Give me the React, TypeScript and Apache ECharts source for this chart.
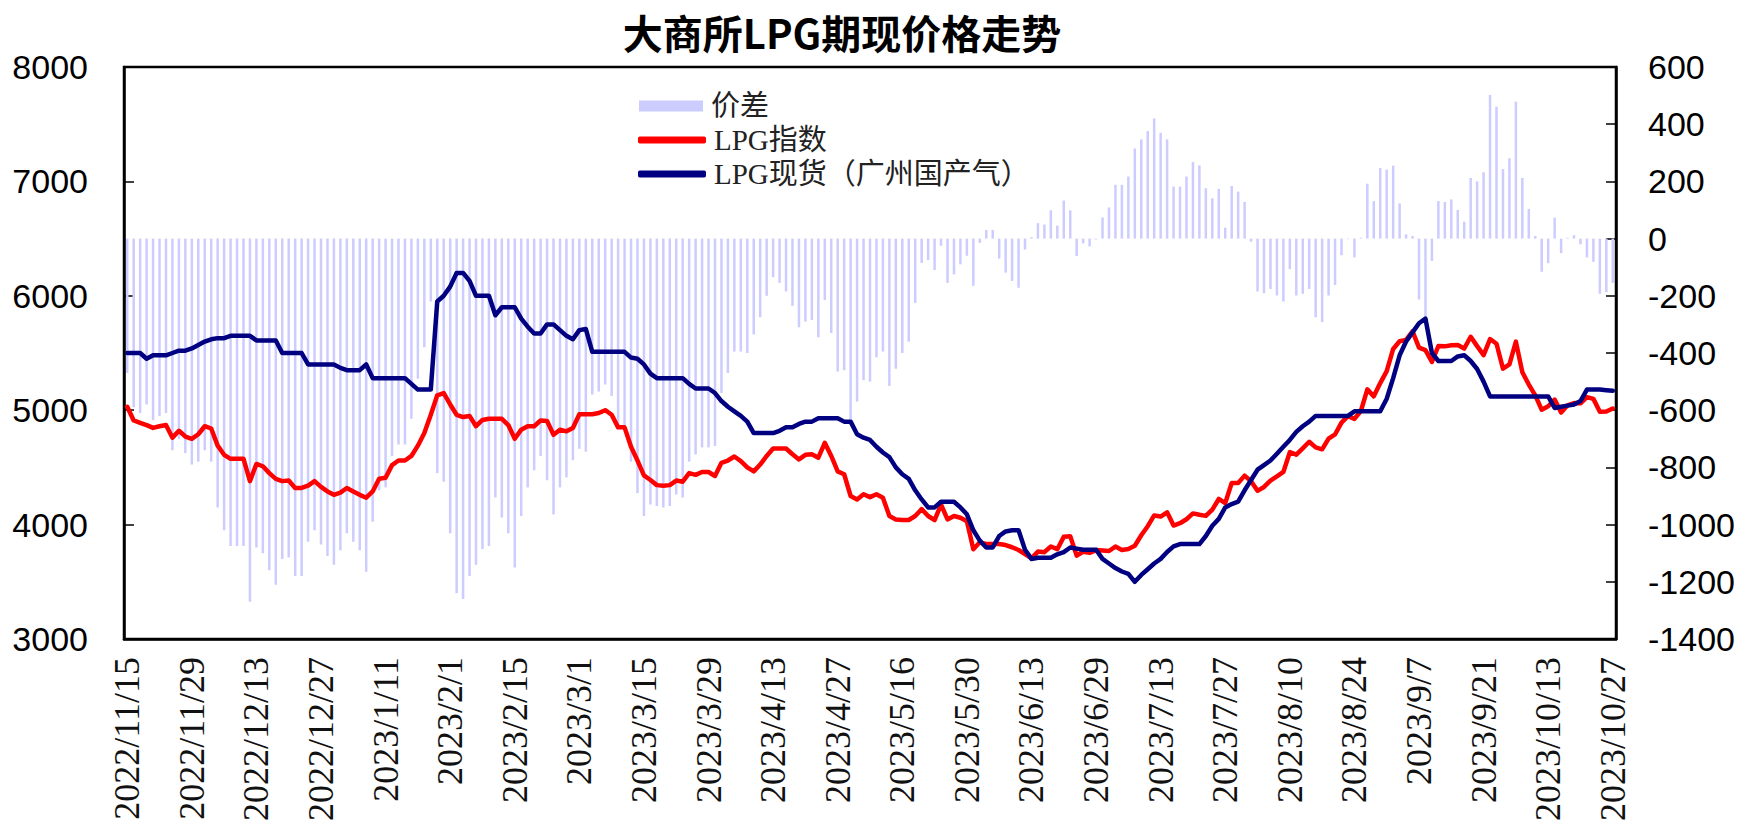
import React, { useEffect, useRef } from "react";
import * as echarts from "echarts";

const TITLE = "大商所LPG期现价格走势";

const dates: string[] = [
  "2022/11/15","2022/11/16","2022/11/17","2022/11/18","2022/11/21","2022/11/22","2022/11/23","2022/11/24","2022/11/25","2022/11/28","2022/11/29","2022/11/30",
  "2022/12/1","2022/12/2","2022/12/5","2022/12/6","2022/12/7","2022/12/8","2022/12/9","2022/12/12","2022/12/13","2022/12/14","2022/12/15","2022/12/16","2022/12/19","2022/12/20","2022/12/21","2022/12/22","2022/12/23","2022/12/26","2022/12/27","2022/12/28","2022/12/29","2022/12/30",
  "2023/1/3","2023/1/4","2023/1/5","2023/1/6","2023/1/9","2023/1/10","2023/1/11","2023/1/12","2023/1/13","2023/1/16","2023/1/17","2023/1/18","2023/1/19","2023/1/20","2023/1/30","2023/1/31",
  "2023/2/1","2023/2/2","2023/2/3","2023/2/6","2023/2/7","2023/2/8","2023/2/9","2023/2/10","2023/2/13","2023/2/14","2023/2/15","2023/2/16","2023/2/17","2023/2/20","2023/2/21","2023/2/22","2023/2/23","2023/2/24","2023/2/27","2023/2/28",
  "2023/3/1","2023/3/2","2023/3/3","2023/3/6","2023/3/7","2023/3/8","2023/3/9","2023/3/10","2023/3/13","2023/3/14","2023/3/15","2023/3/16","2023/3/17","2023/3/20","2023/3/21","2023/3/22","2023/3/23","2023/3/24","2023/3/27","2023/3/28","2023/3/29","2023/3/30","2023/3/31",
  "2023/4/3","2023/4/4","2023/4/6","2023/4/7","2023/4/10","2023/4/11","2023/4/12","2023/4/13","2023/4/14","2023/4/17","2023/4/18","2023/4/19","2023/4/20","2023/4/21","2023/4/24","2023/4/25","2023/4/26","2023/4/27","2023/4/28",
  "2023/5/4","2023/5/5","2023/5/8","2023/5/9","2023/5/10","2023/5/11","2023/5/12","2023/5/15","2023/5/16","2023/5/17","2023/5/18","2023/5/19","2023/5/22","2023/5/23","2023/5/24","2023/5/25","2023/5/26","2023/5/29","2023/5/30","2023/5/31",
  "2023/6/1","2023/6/2","2023/6/5","2023/6/6","2023/6/7","2023/6/8","2023/6/9","2023/6/12","2023/6/13","2023/6/14","2023/6/15","2023/6/16","2023/6/19","2023/6/20","2023/6/21","2023/6/26","2023/6/27","2023/6/28","2023/6/29","2023/6/30",
  "2023/7/3","2023/7/4","2023/7/5","2023/7/6","2023/7/7","2023/7/10","2023/7/11","2023/7/12","2023/7/13","2023/7/14","2023/7/17","2023/7/18","2023/7/19","2023/7/20","2023/7/21","2023/7/24","2023/7/25","2023/7/26","2023/7/27","2023/7/28","2023/7/31",
  "2023/8/1","2023/8/2","2023/8/3","2023/8/4","2023/8/7","2023/8/8","2023/8/9","2023/8/10","2023/8/11","2023/8/14","2023/8/15","2023/8/16","2023/8/17","2023/8/18","2023/8/21","2023/8/22","2023/8/23","2023/8/24","2023/8/25","2023/8/28","2023/8/29","2023/8/30","2023/8/31",
  "2023/9/1","2023/9/4","2023/9/5","2023/9/6","2023/9/7","2023/9/8","2023/9/11","2023/9/12","2023/9/13","2023/9/14","2023/9/15","2023/9/18","2023/9/19","2023/9/20","2023/9/21","2023/9/22","2023/9/25","2023/9/26","2023/9/27","2023/9/28",
  "2023/10/9","2023/10/10","2023/10/11","2023/10/12","2023/10/13","2023/10/16","2023/10/17","2023/10/18","2023/10/19","2023/10/20","2023/10/23","2023/10/24","2023/10/25","2023/10/26","2023/10/27"
];

// LPG指数 (left axis)
const lpgIndex: number[] = [
  5030, 4910, 4890, 4870, 4845, 4860, 4870, 4760, 4820, 4770,
  4750, 4790, 4860, 4840, 4690, 4610, 4575, 4575, 4575, 4380,
  4530, 4510, 4450, 4400, 4380, 4385, 4320, 4320, 4340, 4380,
  4330, 4290, 4260, 4280, 4320, 4290, 4260, 4235, 4290, 4400,
  4410, 4520, 4560, 4560, 4600, 4690, 4800, 4960, 5130, 5150,
  5050, 4960, 4940, 4950, 4860, 4915, 4925, 4925, 4925, 4870,
  4750, 4830, 4860, 4860, 4910, 4905, 4785, 4830, 4815, 4845,
  4965, 4965, 4965, 4975, 5000, 4960, 4850, 4850, 4680, 4560,
  4430, 4390, 4345, 4340, 4345, 4385, 4375, 4450, 4435, 4460,
  4460, 4425, 4540, 4560, 4595, 4555, 4500, 4465, 4525, 4600,
  4665, 4665, 4665, 4615, 4570, 4610, 4615, 4585, 4715, 4600,
  4465, 4440, 4250, 4220, 4265, 4240, 4265, 4235, 4075, 4045,
  4040, 4040, 4075, 4135, 4075, 4040, 4175, 4045, 4075, 4060,
  4030, 3785, 3845, 3830, 3830, 3830, 3821, 3802, 3778, 3742,
  3705, 3764, 3759, 3809, 3785, 3893, 3899, 3729, 3763, 3753,
  3777, 3774, 3769, 3808, 3778, 3787, 3815, 3907, 3986, 4080,
  4070, 4107, 3992, 4012, 4047, 4098, 4086, 4076, 4131, 4224,
  4188, 4364, 4364, 4428, 4379, 4295, 4329, 4384, 4421, 4460,
  4633, 4611, 4667, 4724, 4675, 4658, 4751, 4788, 4892, 4948,
  4924, 4993, 5182, 5121, 5237, 5341, 5535, 5603, 5615, 5689,
  5547, 5525, 5422, 5561, 5558, 5567, 5570, 5539, 5642, 5560,
  5482, 5622, 5581, 5363, 5401, 5599, 5332, 5224, 5129, 5004,
  5034, 5093, 4979, 5043, 5062, 5060, 5114, 5099, 4987, 4988, 5015
];

// LPG现货（广州国产气） (left axis)
const lpgSpot: number[] = [
  5500, 5500, 5500, 5450, 5480, 5480, 5480, 5500, 5520, 5520,
  5540, 5570, 5600, 5620, 5630, 5630, 5650, 5650, 5650, 5650,
  5610, 5610, 5610, 5610, 5500, 5500, 5500, 5500, 5400, 5400,
  5400, 5400, 5400, 5370, 5350, 5350, 5350, 5400, 5280, 5280,
  5280, 5280, 5280, 5280, 5230, 5180, 5180, 5180, 5950, 6000,
  6080, 6200, 6200, 6130, 6000, 6000, 6000, 5830, 5900, 5900,
  5900, 5800, 5730, 5670, 5670, 5750, 5750, 5700, 5650, 5620,
  5700, 5710, 5510, 5510, 5510, 5510, 5510, 5510, 5460, 5450,
  5400, 5320, 5280, 5280, 5280, 5280, 5280, 5230, 5190, 5190,
  5190, 5150, 5080, 5030, 4990, 4950, 4900, 4800, 4800, 4800,
  4800, 4820, 4850, 4850, 4880, 4900, 4900, 4930, 4930, 4930,
  4930, 4900, 4900, 4790, 4760, 4740, 4680, 4630, 4590, 4500,
  4440, 4400, 4300, 4220, 4150, 4150, 4200, 4200, 4200, 4150,
  4090, 3950, 3860, 3800, 3800, 3900, 3940, 3950, 3950, 3780,
  3700, 3710, 3710, 3710, 3740, 3760, 3800, 3790, 3780, 3780,
  3780, 3700, 3660, 3620, 3590, 3570, 3500, 3560, 3610, 3660,
  3700, 3760, 3810, 3830, 3830, 3830, 3830, 3900, 3990, 4050,
  4150, 4180, 4200, 4300, 4390, 4480, 4520, 4560, 4620, 4680,
  4740, 4810, 4860, 4900, 4950, 4950, 4950, 4950, 4950, 4950,
  4990, 4990, 4990, 4990, 4990, 5100, 5280, 5480, 5600, 5680,
  5760, 5800, 5500, 5430, 5430, 5430, 5470, 5480, 5430, 5360,
  5250, 5120, 5120, 5120, 5120, 5120, 5120, 5120, 5120, 5120,
  5120, 5020, 5030, 5040, 5050, 5080, 5180, 5180, 5180, 5175, 5170
];

// 价差 (right axis)
const spread: number[] = [
  -470, -590, -610, -580, -635, -620, -610, -740, -700, -750,
  -790, -780, -740, -780, -940, -1020, -1075, -1075, -1075, -1270,
  -1080, -1100, -1160, -1210, -1120, -1115, -1180, -1180, -1060, -1020,
  -1070, -1110, -1140, -1090, -1030, -1060, -1090, -1165, -990, -880,
  -870, -760, -720, -720, -630, -490, -380, -220, -820, -850,
  -1030, -1240, -1260, -1180, -1140, -1085, -1075, -905, -975, -1030,
  -1150, -970, -870, -810, -760, -845, -965, -870, -835, -775,
  -735, -745, -545, -535, -510, -550, -660, -660, -780, -890,
  -970, -930, -935, -940, -935, -895, -905, -780, -755, -730,
  -730, -725, -540, -470, -395, -395, -400, -335, -275, -200,
  -135, -155, -185, -235, -310, -290, -285, -345, -215, -330,
  -465, -460, -650, -570, -495, -500, -415, -395, -515, -455,
  -400, -360, -225, -85, -75, -110, -25, -155, -125, -90,
  -60, -165, -15, 30, 30, -70, -119, -148, -172, -38,
  5, 54, 49, 99, 45, 133, 99, -61, -17, -27,
  -3, 74, 109, 188, 188, 217, 315, 347, 376, 420,
  370, 347, 182, 182, 217, 268, 256, 176, 141, 174,
  38, 184, 164, 128, -11, -185, -191, -176, -199, -220,
  -107, -199, -193, -176, -275, -292, -199, -162, -58, -2,
  -66, 3, 192, 131, 247, 241, 255, 123, 15, 9,
  -213, -275, -78, 131, 128, 137, 100, 59, 212, 200,
  232, 502, 461, 243, 281, 479, 212, 104, 9, -116,
  -86, 73, -51, 3, 12, -20, -66, -81, -193, -187, -155
];

const SERIES_NAMES = ["价差", "LPG指数", "LPG现货（广州国产气）"];

export default function App() {
  const ref = useRef<HTMLDivElement>(null);

  useEffect(() => {
    if (!ref.current) return;
    const chart = echarts.init(ref.current, undefined, { renderer: "svg" });
    const legendText = {
      fontSize: 29,
      lineHeight: 30,
      color: "#222",
      padding: [0, 0, 0, 3],
      fontFamily: "'Liberation Serif', 'Noto Sans CJK SC', serif",
    };
    const plainNumber = (v: number) => String(v);
    const option: any = {
      animation: false,
      backgroundColor: "#ffffff",
      graphic: [
        {
          type: "text",
          x: 842,
          y: 32,
          style: {
            text: TITLE,
            fill: "#000",
            font: "bold 40px 'Noto Sans CJK SC', sans-serif",
            textAlign: "center",
            textVerticalAlign: "middle",
          },
        },
      ],
      legend: [
        {
          data: [SERIES_NAMES[0]],
          left: 639,
          top: 91,
          padding: 0,
          icon: "rect",
          itemWidth: 64,
          itemHeight: 11,
          selectedMode: false,
          textStyle: legendText,
        },
        {
          data: [SERIES_NAMES[1]],
          left: 638,
          top: 125,
          padding: 0,
          icon: "roundRect",
          itemWidth: 68,
          itemHeight: 7,
          selectedMode: false,
          textStyle: legendText,
        },
        {
          data: [SERIES_NAMES[2]],
          left: 638,
          top: 159,
          padding: 0,
          icon: "roundRect",
          itemWidth: 68,
          itemHeight: 7,
          selectedMode: false,
          textStyle: legendText,
        },
      ],
      grid: {
        left: 124,
        right: 129,
        top: 67,
        bottom: 182,
        show: true,
        borderColor: "#000",
        borderWidth: 2.5,
        backgroundColor: "transparent",
      },
      xAxis: {
        type: "category",
        data: dates,
        boundaryGap: true,
        axisLine: { show: true, onZero: false, lineStyle: { color: "#000", width: 2.5 } },
        axisTick: { show: false },
        axisLabel: {
          interval: 9,
          rotate: 90,
          margin: 18,
          fontSize: 36,
          fontFamily: "'Liberation Serif', serif",
          color: "#111",
        },
        splitLine: { show: false },
      },
      yAxis: [
        {
          type: "value",
          position: "left",
          min: 3000,
          max: 8000,
          interval: 1000,
          axisLine: { show: true, lineStyle: { color: "#000", width: 2.5 } },
          axisTick: { show: true, inside: true, length: 10, lineStyle: { color: "#000", width: 1.5 } },
          splitLine: { show: false },
          axisLabel: {
            margin: 36,
            fontSize: 34,
            fontFamily: "'Liberation Sans', Arial, sans-serif",
            color: "#000",
            formatter: plainNumber,
          },
        },
        {
          type: "value",
          position: "right",
          min: -1400,
          max: 600,
          interval: 200,
          axisLine: { show: true, lineStyle: { color: "#000", width: 2.5 } },
          axisTick: { show: true, inside: true, length: 10, lineStyle: { color: "#000", width: 1.5 } },
          splitLine: { show: false },
          axisLabel: {
            margin: 32,
            fontSize: 34,
            fontFamily: "'Liberation Sans', Arial, sans-serif",
            color: "#000",
            formatter: plainNumber,
          },
        },
      ],
      series: [
        {
          name: SERIES_NAMES[0],
          type: "bar",
          yAxisIndex: 1,
          data: spread,
          barWidth: 2.5,
          itemStyle: { color: "#ccccff" },
          z: 1,
        },
        {
          name: SERIES_NAMES[1],
          type: "line",
          yAxisIndex: 0,
          data: lpgIndex,
          symbol: "none",
          lineStyle: { color: "#ff0000", width: 4.5, join: "round", cap: "round" },
          itemStyle: { color: "#ff0000" },
          z: 3,
        },
        {
          name: SERIES_NAMES[2],
          type: "line",
          yAxisIndex: 0,
          data: lpgSpot,
          symbol: "none",
          lineStyle: { color: "#000080", width: 4.5, join: "round", cap: "round" },
          itemStyle: { color: "#000080" },
          z: 4,
        },
      ],
    };
    chart.setOption(option);
    return () => {
      chart.dispose();
    };
  }, []);

  return (
    <div
      ref={ref}
      style={{ position: "fixed", left: 0, top: 0, width: 1745, height: 824, background: "#fff" }}
    />
  );
}
